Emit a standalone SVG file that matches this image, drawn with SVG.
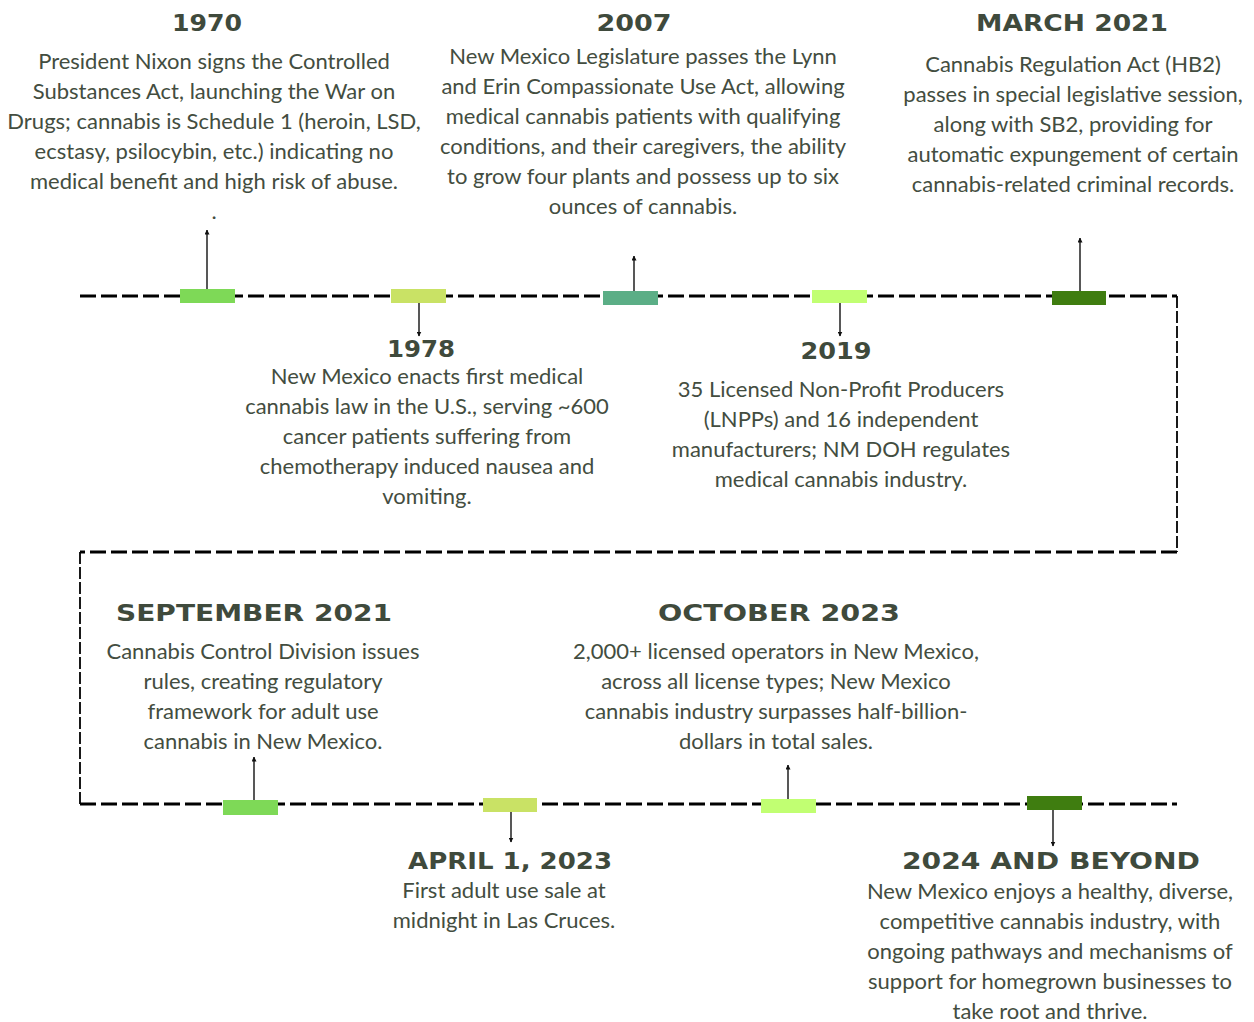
<svg xmlns="http://www.w3.org/2000/svg" width="1254" height="1022" viewBox="0 0 1254 1022">
<style>
.h{font-family:"DejaVu Sans",sans-serif;font-weight:bold;font-size:23px;fill:#3f4a3c;text-anchor:middle}
.b{font-family:Lato,"Liberation Sans",sans-serif;font-size:22px;fill:#434d40;text-anchor:middle}
.tl{stroke:#000;stroke-width:3;stroke-dasharray:16 5;fill:none}
.tv{stroke:#000;stroke-width:1.8;stroke-dasharray:12 3;fill:none}
.ar{stroke:#111;stroke-width:1.4;fill:none;marker-end:url(#ah)}
</style>
<defs>
<marker id="ah" viewBox="0 0 10 10" refX="9" refY="5" markerWidth="5" markerHeight="5" orient="auto" markerUnits="userSpaceOnUse">
<path d="M0,0 L10,5 L0,10 z" fill="#111"/>
</marker>
</defs>
<rect width="1254" height="1022" fill="#fff"/>
<g id="connectors">
<line class="tl" x1="80" y1="296" x2="1177" y2="296"/>
<line class="tv" x1="1177" y1="296" x2="1177" y2="552"/>
<line class="tl" x1="1177" y1="552" x2="80" y2="552"/>
<line class="tv" x1="80" y1="552" x2="80" y2="804"/>
<line class="tl" x1="80" y1="804" x2="1177" y2="804"/>
<line class="ar" x1="207" y1="289" x2="207" y2="230"/>
<line class="ar" x1="419" y1="303" x2="419" y2="336"/>
<line class="ar" x1="634" y1="291" x2="634" y2="256"/>
<line class="ar" x1="840" y1="303" x2="840" y2="336"/>
<line class="ar" x1="1080" y1="291" x2="1080" y2="238"/>
<line class="ar" x1="254" y1="800" x2="254" y2="757"/>
<line class="ar" x1="511" y1="812" x2="511" y2="842"/>
<line class="ar" x1="788" y1="799" x2="788" y2="765"/>
<line class="ar" x1="1053" y1="810" x2="1053" y2="846"/>
</g>
<g id="n1970">
<rect x="180" y="289" width="55" height="14" fill="#7ed957"/>
<text class="h" x="207" y="31" textLength="70" lengthAdjust="spacingAndGlyphs">1970</text>
<text class="b" x="214" y="69">President Nixon signs the Controlled</text>
<text class="b" x="214" y="99">Substances Act, launching the War on</text>
<text class="b" x="214" y="129">Drugs; cannabis is Schedule 1 (heroin, LSD,</text>
<text class="b" x="214" y="159">ecstasy, psilocybin, etc.) indicating no</text>
<text class="b" x="214" y="189">medical benefit and high risk of abuse.</text>
<text class="b" x="214" y="219">.</text>
</g>
<g id="n1978">
<rect x="391" y="289" width="55" height="14" fill="#c9e265"/>
<text class="h" x="421" y="357" textLength="68" lengthAdjust="spacingAndGlyphs">1978</text>
<text class="b" x="427" y="384">New Mexico enacts first medical</text>
<text class="b" x="427" y="414">cannabis law in the U.S., serving ~600</text>
<text class="b" x="427" y="444">cancer patients suffering from</text>
<text class="b" x="427" y="474">chemotherapy induced nausea and</text>
<text class="b" x="427" y="504">vomiting.</text>
</g>
<g id="n2007">
<rect x="603" y="291" width="55" height="14" fill="#5bae86"/>
<text class="h" x="634" y="31" textLength="75" lengthAdjust="spacingAndGlyphs">2007</text>
<text class="b" x="643" y="64">New Mexico Legislature passes the Lynn</text>
<text class="b" x="643" y="94">and Erin Compassionate Use Act, allowing</text>
<text class="b" x="643" y="124">medical cannabis patients with qualifying</text>
<text class="b" x="643" y="154">conditions, and their caregivers, the ability</text>
<text class="b" x="643" y="184">to grow four plants and possess up to six</text>
<text class="b" x="643" y="214">ounces of cannabis.</text>
</g>
<g id="n2019">
<rect x="812" y="290" width="55" height="13" fill="#c1ff72"/>
<text class="h" x="836" y="359" textLength="71" lengthAdjust="spacingAndGlyphs">2019</text>
<text class="b" x="841" y="397">35 Licensed Non-Profit Producers</text>
<text class="b" x="841" y="427">(LNPPs) and 16 independent</text>
<text class="b" x="841" y="457">manufacturers; NM DOH regulates</text>
<text class="b" x="841" y="487">medical cannabis industry.</text>
</g>
<g id="nMar2021">
<rect x="1052" y="291" width="54" height="14" fill="#3f7d10"/>
<text class="h" x="1072" y="31" textLength="192" lengthAdjust="spacingAndGlyphs">MARCH 2021</text>
<text class="b" x="1073" y="72">Cannabis Regulation Act (HB2)</text>
<text class="b" x="1073" y="102">passes in special legislative session,</text>
<text class="b" x="1073" y="132">along with SB2, providing for</text>
<text class="b" x="1073" y="162">automatic expungement of certain</text>
<text class="b" x="1073" y="192">cannabis-related criminal records.</text>
</g>
<g id="nSep2021">
<rect x="223" y="800" width="55" height="15" fill="#7ed957"/>
<text class="h" x="254" y="621" textLength="276" lengthAdjust="spacingAndGlyphs">SEPTEMBER 2021</text>
<text class="b" x="263" y="659">Cannabis Control Division issues</text>
<text class="b" x="263" y="689">rules, creating regulatory</text>
<text class="b" x="263" y="719">framework for adult use</text>
<text class="b" x="263" y="749">cannabis in New Mexico.</text>
</g>
<g id="nApr2023">
<rect x="483" y="798" width="54" height="14" fill="#c9e265"/>
<text class="h" x="510" y="869" textLength="204" lengthAdjust="spacingAndGlyphs">APRIL 1, 2023</text>
<text class="b" x="504" y="898">First adult use sale at</text>
<text class="b" x="504" y="928">midnight in Las Cruces.</text>
</g>
<g id="nOct2023">
<rect x="761" y="799" width="55" height="14" fill="#c1ff72"/>
<text class="h" x="779" y="621" textLength="242" lengthAdjust="spacingAndGlyphs">OCTOBER 2023</text>
<text class="b" x="776" y="659">2,000+ licensed operators in New Mexico,</text>
<text class="b" x="776" y="689">across all license types; New Mexico</text>
<text class="b" x="776" y="719">cannabis industry surpasses half-billion-</text>
<text class="b" x="776" y="749">dollars in total sales.</text>
</g>
<g id="n2024">
<rect x="1027" y="796" width="55" height="14" fill="#3f7d10"/>
<text class="h" x="1051" y="869" textLength="298" lengthAdjust="spacingAndGlyphs">2024 AND BEYOND</text>
<text class="b" x="1050" y="899">New Mexico enjoys a healthy, diverse,</text>
<text class="b" x="1050" y="929">competitive cannabis industry, with</text>
<text class="b" x="1050" y="959">ongoing pathways and mechanisms of</text>
<text class="b" x="1050" y="989">support for homegrown businesses to</text>
<text class="b" x="1050" y="1019">take root and thrive.</text>
</g>
</svg>
